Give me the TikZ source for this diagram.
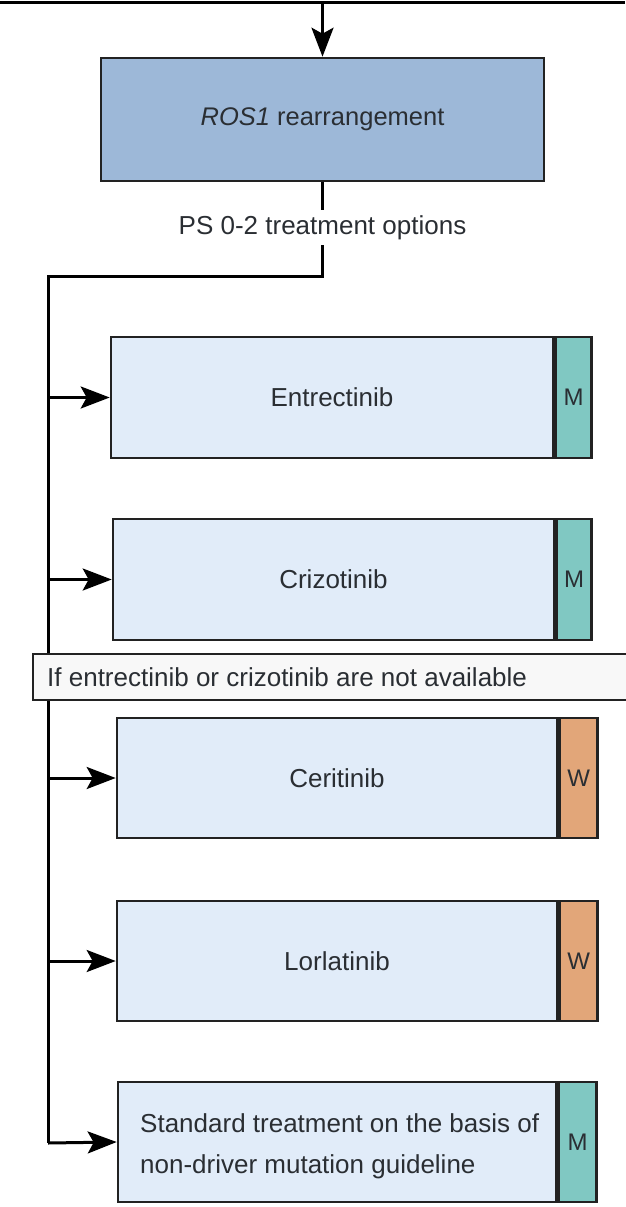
\documentclass[tikz,border=0pt]{standalone}
\usepackage{fontspec}
\setmainfont{Liberation Sans}
\usetikzlibrary{arrows.meta}

\definecolor{headfill}{HTML}{9DB8D8}
\definecolor{optfill}{HTML}{E1ECF9}
\definecolor{mfill}{HTML}{80C8C2}
\definecolor{wfill}{HTML}{E2A679}
\definecolor{notefill}{HTML}{F8F8F8}
\definecolor{edge}{HTML}{222222}
\definecolor{ink}{HTML}{2A2E33}

\tikzset{
  txt/.style={font=\fontsize{26}{30}\selectfont, text=ink},
  headbox/.style={draw=edge, line width=2.6pt, fill=headfill, inner sep=0pt,
    minimum width=443pt, minimum height=123pt, txt, font=\fontsize{25.5}{30}\selectfont},
  optbox/.style={draw=edge, line width=2.6pt, fill=optfill, inner sep=0pt,
    minimum height=121pt, txt},
  mbadge/.style={draw=edge, line width=2.6pt, fill=mfill, inner sep=0pt,
    minimum height=121pt, txt, font=\fontsize{24}{28}\selectfont},
  wbadge/.style={mbadge, fill=wfill},
  link/.style={draw=black, line width=3pt},
  feed/.style={link, -{Stealth[length=29pt,width=22pt,inset=6pt]}},
  note/.style={draw=edge, line width=2.6pt, fill=notefill},
}

\begin{document}
\begin{tikzpicture}[x=1pt,y=-1pt]
\useasboundingbox (0,0) rectangle (625,1207);

% incoming rule and head node
\coordinate (ruleL) at (0,3);
\coordinate (ruleR) at (625,3);
\coordinate (ruleM) at (322.5,3);
\draw[link] (ruleL) -- (ruleR);

\node[headbox] (ros) at (322.5,119.5) {\textit{ROS1} rearrangement};
\draw[feed] (ruleM) -- (ros.north);

\node[txt, inner sep=0pt, minimum height=35pt] (ps) at (322.5,227.5) {PS 0-2 treatment options};
\draw[link] (ros.south) -- (ps.north);

% treatment options
\node[optbox, minimum width=442pt] (entr) at (332,397.5) {Entrectinib};
\node[mbadge, minimum width=36pt, anchor=west] (entrB) at (entr.east) {M};

\node[optbox, minimum width=441pt] (criz) at (333.5,579.5) {Crizotinib};
\node[mbadge, minimum width=35pt, anchor=west] (crizB) at (criz.east) {M};

\node[optbox, minimum width=440pt, minimum height=120pt] (ceri) at (337,778) {Ceritinib};
\node[wbadge, minimum width=38pt, minimum height=120pt, anchor=west] (ceriB) at (ceri.east) {W};

\node[optbox, minimum width=440pt, minimum height=120pt] (lorl) at (337,961) {Lorlatinib};
\node[wbadge, minimum width=38pt, minimum height=120pt, anchor=west] (lorlB) at (lorl.east) {W};

\node[optbox, minimum width=438pt, minimum height=120pt] (std) at (337,1142) {};
\node[mbadge, minimum width=38pt, minimum height=120pt, anchor=west] (stdB) at (std.east) {M};
\node[txt, font=\fontsize{26}{41}\selectfont, align=left, anchor=west, inner sep=0pt]
  (stdT) at (140,1146.5) {Standard treatment on the basis of\\non-driver mutation guideline};

% trunk and branches
\coordinate (elbow) at (48,276);
\coordinate (trunkEnd) at (48,1143);
\draw[link] (ps.south) |- (elbow) -- (trunkEnd);
\draw[feed] (entr.west -| elbow) -- (entr.west);
\draw[feed] (criz.west -| elbow) -- (criz.west);
\draw[feed] (ceri.west -| elbow) -- (ceri.west);
\draw[feed] (lorl.west -| elbow) -- (lorl.west);
\draw[feed] (trunkEnd) -- (std.west);

% availability note laid across the trunk
\path[note] (33,654) rectangle (640,700);
\node[txt, anchor=west, inner sep=0pt] (avail) at (47,677) {If entrectinib or crizotinib are not available};
\end{tikzpicture}
\end{document}
